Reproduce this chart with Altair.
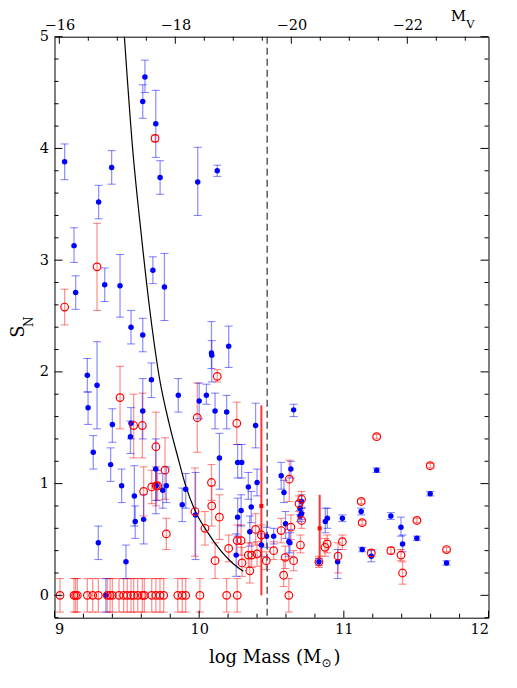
import altair as alt
import pandas as pd

# ---------------- data ----------------
# blue filled points: log Mass, S_N, lower and upper error
blue_logm = [9.07, 9.305, 9.395, 9.625, 9.61, 9.70, 9.73, 9.99, 10.125, 9.135,
             9.347, 9.453, 9.146, 9.68, 9.76, 9.529, 9.61, 9.227, 9.294, 9.232,
             9.67, 9.856, 9.61, 10.0, 9.40, 9.529, 9.525, 9.70, 10.085, 10.087,
             10.204, 10.05, 10.11, 10.19, 10.39, 10.14, 10.266, 10.294, 10.653, 9.268,
             9.388, 9.464, 9.552, 9.558, 9.616, 9.303, 9.494, 9.748, 9.773, 9.883,
             9.907, 9.975, 10.34, 10.40, 10.29, 10.266, 10.36, 10.35, 10.466, 10.515,
             10.256, 10.43, 10.567, 10.634, 10.586, 10.597, 10.62, 10.627, 10.708, 10.697,
             10.708, 10.697, 10.828, 10.872, 10.886, 10.99, 10.957, 11.227, 11.597, 11.12,
             11.325, 11.505, 11.395, 11.406, 11.127, 11.19, 11.71, 9.355, 9.703]
blue_sn = [3.88, 3.52, 3.83, 4.64, 4.42, 4.22, 3.74, 3.70, 3.80, 3.13,
           2.78, 2.77, 2.71, 2.91, 2.76, 2.40, 2.33, 1.97, 1.88, 1.68,
           1.93, 1.79, 1.65, 1.74, 1.53, 1.54, 1.42, 1.13, 2.17, 2.15,
           2.23, 1.79, 1.65, 1.64, 1.52, 1.23, 1.19, 1.19, 1.66, 1.28,
           1.17, 0.98, 0.89, 0.66, 0.68, 0.47, 0.30, 0.94, 0.98, 0.81,
           0.95, 0.72, 0.97, 1.01, 0.76, 0.70, 0.79, 0.57, 0.53, 0.53,
           0.36, 0.45, 1.07, 1.13, 0.92, 0.64, 0.48, 0.47, 0.84, 0.78,
           0.73, 0.71, 0.30, 0.66, 0.69, 0.69, 0.30, 1.12, 0.91, 0.75,
           0.71, 0.51, 0.61, 0.46, 0.41, 0.35, 0.29, 0.00, 0.98]
blue_lo = [3.72, 3.37, 3.68, 4.50, 4.27, 3.92, 3.59, 3.40, 3.75, 2.98,
           2.63, 2.49, 2.56, 2.79, 2.46, 2.25, 2.18, 1.82, 1.49, 1.53,
           1.77, 1.64, 1.40, 1.58, 1.37, 1.40, 1.27, 0.73, 2.03, 1.91,
           2.04, 1.71, 1.49, 1.49, 1.32, 0.95, 1.05, 1.05, 1.60, 1.13,
           1.02, 0.83, 0.62, 0.51, 0.46, 0.32, 0.15, 0.78, 0.83, 0.66,
           0.78, 0.32, 0.86, 0.89, 0.62, 0.53, 0.65, 0.44, 0.43, 0.46,
           0.17, 0.35, 0.95, 1.05, 0.83, 0.51, 0.35, 0.38, 0.78, 0.72,
           0.68, 0.66, 0.27, 0.56, 0.60, 0.66, 0.15, 1.10, 0.89, 0.72,
           0.68, 0.49, 0.53, 0.39, 0.39, 0.30, 0.27, -0.15, 0.85]
blue_hi = [4.04, 3.67, 3.98, 4.79, 4.57, 4.52, 3.89, 4.01, 3.85, 3.29,
           2.93, 3.05, 2.86, 3.03, 3.06, 2.55, 2.48, 2.12, 2.27, 1.82,
           2.08, 1.94, 1.94, 1.90, 1.67, 1.68, 1.56, 1.40, 2.45, 2.28,
           2.41, 1.89, 1.81, 1.79, 1.72, 1.45, 1.35, 1.35, 1.71, 1.43,
           1.32, 1.13, 1.16, 0.80, 0.90, 0.62, 0.45, 1.09, 1.15, 0.96,
           1.09, 1.10, 1.10, 1.13, 0.90, 0.87, 0.93, 0.71, 0.61, 0.60,
           0.55, 0.55, 1.19, 1.20, 1.03, 0.75, 0.59, 0.56, 0.90, 0.84,
           0.78, 0.76, 0.33, 0.78, 0.78, 0.72, 0.41, 1.14, 0.93, 0.78,
           0.74, 0.53, 0.70, 0.54, 0.43, 0.40, 0.31, 0.15, 1.12]

# red open circles
red_logm = [9.695, 9.294, 9.07, 9.453, 9.987, 9.547, 9.607, 9.701, 9.764, 10.125,
            10.26, 9.616, 9.672, 9.703, 9.713, 9.773, 9.971, 10.04, 10.085, 10.087,
            10.14, 10.11, 10.204, 10.39, 10.263, 10.29, 10.296, 10.34, 10.363, 10.35,
            10.40, 10.464, 10.515, 10.623, 10.567, 10.634, 10.595, 10.653, 10.584, 10.70,
            10.69, 10.708, 10.708, 10.828, 10.87, 10.885, 10.99, 10.96, 11.227, 11.597,
            11.12, 11.127, 11.505, 11.325, 11.395, 11.406, 11.19, 11.71, 10.43]
red_sn = [4.09, 2.94, 2.58, 1.77, 1.59, 1.52, 1.52, 1.33, 1.12, 1.96,
          1.54, 0.93, 0.97, 0.98, 0.98, 0.55, 0.75, 0.60, 1.01, 0.80,
          0.70, 0.31, 0.42, 0.59, 0.49, 0.49, 0.29, 0.36, 0.36, 0.22,
          0.37, 0.31, 0.40, 1.04, 0.58, 0.61, 0.34, 0.31, 0.18, 0.45,
          0.82, 0.86, 0.67, 0.30, 0.43, 0.46, 0.48, 0.35, 1.42, 1.16,
          0.84, 0.65, 0.67, 0.40, 0.36, 0.20, 0.38, 0.41, 0.54]
red_lo = [4.06, 2.55, 2.42, 1.49, 1.28, 1.23, 1.23, 1.00, 0.86, 1.91,
          1.35, 0.71, 0.82, 0.80, 0.85, 0.41, 0.35, 0.45, 0.85, 0.62,
          0.50, 0.15, 0.30, 0.45, 0.36, 0.36, 0.17, 0.25, 0.25, 0.11,
          0.26, 0.23, 0.32, 0.84, 0.47, 0.50, 0.24, 0.22, 0.08, 0.38,
          0.75, 0.79, 0.60, 0.25, 0.35, 0.38, 0.41, 0.20, 1.40, 1.14,
          0.82, 0.63, 0.65, 0.37, 0.31, 0.10, 0.35, 0.39, 0.45]
red_hi = [4.12, 3.33, 2.74, 2.05, 1.90, 1.80, 1.81, 1.64, 1.41, 2.02,
          1.73, 1.15, 1.12, 1.15, 1.12, 0.69, 1.14, 0.75, 1.17, 0.98,
          0.90, 0.47, 0.54, 0.73, 0.63, 0.63, 0.43, 0.47, 0.47, 0.33,
          0.48, 0.39, 0.48, 1.21, 0.69, 0.72, 0.44, 0.40, 0.32, 0.54,
          0.89, 0.93, 0.74, 0.35, 0.51, 0.54, 0.54, 0.47, 1.44, 1.18,
          0.86, 0.67, 0.69, 0.43, 0.41, 0.30, 0.41, 0.43, 0.63]

# red open circles with S_N = 0 (error bars -0.15 .. 0.15)
red_zero_logm = [9.038, 9.135, 9.146, 9.158, 9.227, 9.264, 9.303, 9.365, 9.384, 9.40,
                 9.446, 9.478, 9.503, 9.529, 9.547, 9.575, 9.607, 9.621, 9.672, 9.701,
                 9.729, 9.755, 9.852, 9.883, 9.907, 10.005, 10.19, 10.263, 10.62]
red_zero_lo = -0.15
red_zero_hi = 0.15

# two small red squares with long error bars
redsq_logm = [10.43, 10.833]
redsq_sn = [0.80, 0.60]
redsq_lo = [0.0, 0.33]
redsq_hi = [1.70, 0.90]

# black curve
curve_logm = [9.483, 9.540, 9.598, 9.672, 9.722, 9.790, 9.856, 9.907, 9.971,
              10.045, 10.156, 10.230, 10.305]
curve_sn = [5.00, 4.00, 3.25, 2.42, 1.97, 1.55, 1.22, 0.98, 0.76,
            0.59, 0.39, 0.29, 0.215]

# dashed vertical line
dash_logm = [10.47]

# axes
x_major = [9, 10, 11, 12]
x_minor = [round(9 + 0.2 * i, 1) for i in range(16) if i % 5 != 0]
y_major = [0, 1, 2, 3, 4, 5]
y_minor = [round(-0.2 + 0.2 * i, 1) for i in range(27) if round(-0.2 + 0.2 * i, 1) not in (0, 1, 2, 3, 4, 5)]
mv_major = [-16, -18, -20, -22]
mv_minor = [-16.5, -17, -17.5, -18.5, -19, -19.5, -20.5, -21, -21.5, -22.5, -23]
mv_domain = [-23.40, -15.917]

# ---------------- chart ----------------
W, H = 434, 581
FONT = "DejaVu Serif"
BLUE = "#0000ff"
RED = "#ff0000"
CAP = "M-1,0H1"

xs = alt.Scale(domain=[9, 12], nice=False, zero=False)
ys = alt.Scale(domain=[-0.2, 5], nice=False, zero=False)
xaxis = alt.Axis(values=x_major, ticks=False, domain=False, grid=False, title=None,
                 labelFont=FONT, labelFontSize=14.5, labelColor="black", labelPadding=5,
                 format="d")
yaxis = alt.Axis(values=y_major, ticks=False, domain=False, grid=False, title=None,
                 labelFont=FONT, labelFontSize=14.5, labelColor="black", labelPadding=6,
                 format="d")


def X(f):
    return alt.X(f, type="quantitative", scale=xs, axis=xaxis)


def Y(f):
    return alt.Y(f, type="quantitative", scale=ys, axis=yaxis)


blue = pd.DataFrame({"logm": blue_logm, "sn": blue_sn, "lo": blue_lo, "hi": blue_hi})
red = pd.DataFrame({"logm": red_logm, "sn": red_sn, "lo": red_lo, "hi": red_hi})
redz = pd.DataFrame({"logm": red_zero_logm, "sn": [0.0] * len(red_zero_logm),
                     "lo": [red_zero_lo] * len(red_zero_logm),
                     "hi": [red_zero_hi] * len(red_zero_logm)})
redsq = pd.DataFrame({"logm": redsq_logm, "sn": redsq_sn, "lo": redsq_lo, "hi": redsq_hi})
curve = pd.DataFrame({"logm": curve_logm, "sn": curve_sn})
dash = pd.DataFrame({"logm": dash_logm})


def errbars(df, color):
    base = alt.Chart(df)
    bar = base.mark_rule(color=color, opacity=0.42, strokeWidth=1.3).encode(
        x=X("logm"), y=Y("lo"), y2="hi")
    c1 = base.mark_point(shape=CAP, size=64, color=color, opacity=0.5, strokeWidth=1).encode(
        x=X("logm"), y=Y("lo"))
    c2 = base.mark_point(shape=CAP, size=64, color=color, opacity=0.5, strokeWidth=1).encode(
        x=X("logm"), y=Y("hi"))
    return [bar, c1, c2]


layers = []
layers += errbars(redz, RED)
layers += errbars(red, RED)
layers += errbars(blue, BLUE)

layers.append(alt.Chart(redsq).mark_rule(color=RED, strokeWidth=2, opacity=0.8).encode(
    x=X("logm"), y=Y("lo"), y2="hi"))
layers.append(alt.Chart(redsq).mark_square(color=RED, size=16, opacity=1).encode(
    x=X("logm"), y=Y("sn")))

layers.append(alt.Chart(curve).mark_line(color="black", strokeWidth=1.2, interpolate="monotone").encode(
    x=X("logm"), y=Y("sn")))
layers.append(alt.Chart(dash).mark_rule(color="#333333", strokeWidth=1.2, strokeDash=[7, 4]).encode(
    x=X("logm"), y=alt.value(0), y2=alt.value(H)))

layers.append(alt.Chart(blue).mark_circle(color=BLUE, size=30, opacity=1).encode(
    x=X("logm"), y=Y("sn")))
layers.append(alt.Chart(pd.concat([red, redz])).mark_point(
    shape="circle", filled=False, color=RED, size=58, strokeWidth=1.2, opacity=1).encode(
    x=X("logm"), y=Y("sn")))

# inward ticks
xmaj = pd.DataFrame({"v": x_major})
xmin = pd.DataFrame({"v": x_minor})
ymaj = pd.DataFrame({"v": y_major})
ymin = pd.DataFrame({"v": y_minor})
TK = dict(color="black", strokeWidth=1)
layers.append(alt.Chart(xmaj).mark_rule(**TK).encode(x=X("v"), y=alt.value(H), y2=alt.value(H - 7)))
layers.append(alt.Chart(xmin).mark_rule(**TK).encode(x=X("v"), y=alt.value(H), y2=alt.value(H - 4)))
layers.append(alt.Chart(ymaj).mark_rule(**TK).encode(y=Y("v"), x=alt.value(0), x2=alt.value(8)))
layers.append(alt.Chart(ymin).mark_rule(**TK).encode(y=Y("v"), x=alt.value(0), x2=alt.value(4)))
layers.append(alt.Chart(ymaj).mark_rule(**TK).encode(y=Y("v"), x=alt.value(W), x2=alt.value(W - 8)))
layers.append(alt.Chart(ymin).mark_rule(**TK).encode(y=Y("v"), x=alt.value(W), x2=alt.value(W - 4)))


# titles
def label(txt, x, y, size, angle=0, align="center", font=FONT):
    return alt.Chart(pd.DataFrame({"t": [txt]})).mark_text(
        font=font, fontSize=size, angle=angle, align=align, baseline="middle", color="black"
    ).encode(text="t:N", x=alt.value(x), y=alt.value(y))


layers.append(label("log Mass (M", 267, 621, 18, align="right"))
layers.append(label("\u2299", 272, 626, 12, font="DejaVu Sans"))
layers.append(label(")", 279, 621, 18, align="left"))
layers.append(label("S", -36, 295, 18, angle=270))
layers.append(label("N", -26, 285, 12, angle=270))
layers.append(label("M", 404, -21, 15))
layers.append(label("V", 416, -12, 11.5))

main = alt.layer(*layers)

mvscale = alt.Scale(domain=mv_domain, reverse=True, nice=False, zero=False)
mvaxis = alt.Axis(orient="top", values=mv_major, ticks=False, domain=False, grid=False, title=None,
                  labelFont=FONT, labelFontSize=14.5, labelColor="black", labelPadding=4)
top_major = alt.Chart(pd.DataFrame({"mv": mv_major})).mark_rule(**TK).encode(
    x=alt.X("mv:Q", scale=mvscale, axis=mvaxis), y=alt.value(0), y2=alt.value(7))
top_minor = alt.Chart(pd.DataFrame({"mv": mv_minor})).mark_rule(**TK).encode(
    x=alt.X("mv:Q", scale=mvscale, axis=mvaxis), y=alt.value(0), y2=alt.value(4))
top = alt.layer(top_major, top_minor)

chart = alt.layer(main, top).resolve_scale(x="independent").properties(
    width=W, height=H,
    autosize=alt.AutoSizeParams(type="none"),
    padding={"left": 46.5, "top": 28.7, "right": 20, "bottom": 60},
).configure_view(stroke="black", strokeWidth=1)

chart.save("out.html", embed_options={"renderer": "svg", "actions": False})
